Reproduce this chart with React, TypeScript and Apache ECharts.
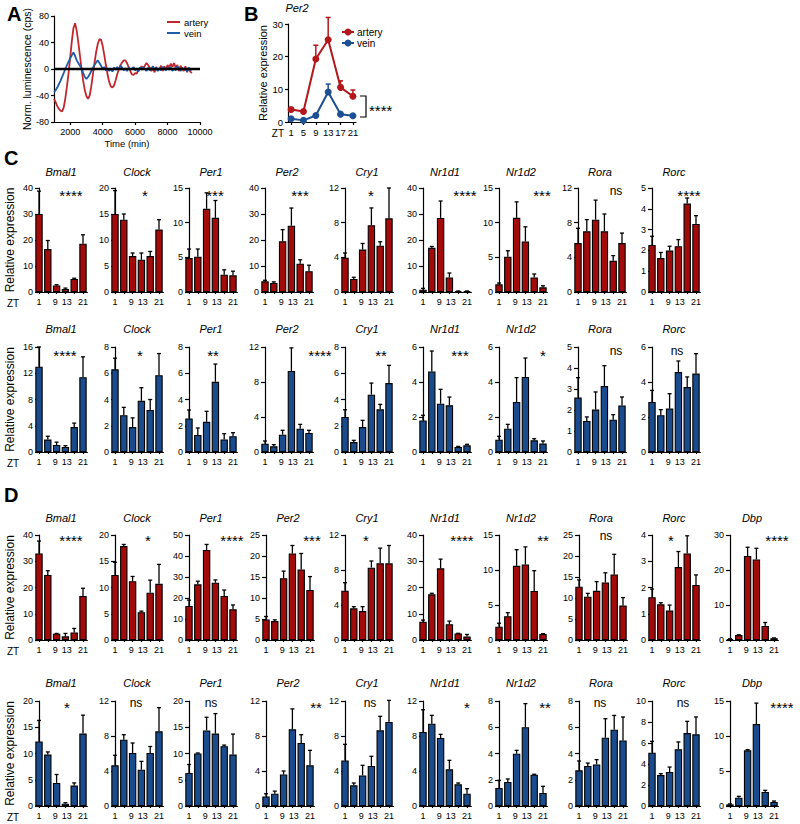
import React, { useEffect, useRef } from 'react';
import * as echarts from 'echarts';

const FONT = '"Liberation Sans", Arial, Helvetica, sans-serif';
const RED = '#a30a0a';
const BLUE = '#1a4b8c';
const A_RED = '#c1272d';
const A_BLUE = '#1f5da8';

// ---------- Panel A : luminescence traces ----------
const A_X_LABELS = [2000, 4000, 6000, 8000, 10000];
const A_BASELINE = [[1000, 0], [10000, 0]];
const A_ARTERY = [
  [1000, -45], [1100, -50], [1200, -56], [1300, -60], [1400, -63], [1500, -64], [1600, -58], [1700, -44], [1800, -26], [1900, -6],
  [2000, 18], [2100, 42], [2200, 62], [2300, 69], [2400, 58], [2500, 40], [2600, 20], [2700, 0], [2800, -18], [2900, -32],
  [3000, -41], [3100, -45], [3200, -40], [3300, -26], [3400, -8], [3500, 10], [3600, 26], [3700, 38], [3800, 45], [3900, 44],
  [4000, 35], [4100, 21], [4200, 6], [4300, -8], [4400, -19], [4500, -26], [4600, -28], [4700, -25], [4800, -17], [4900, -8],
  [5000, 0], [5100, 6], [5200, 10], [5300, 13], [5400, 13], [5500, 9], [5600, 3], [5700, -3], [5800, -8], [5900, -9],
  [6000, -6], [6100, -7], [6200, -1], [6300, 1], [6400, 4], [6500, 1], [6600, 5], [6700, 9], [6800, 6], [6900, 2],
  [7000, -3], [7100, 1], [7200, -5], [7300, 3], [7400, -2], [7500, 0], [7600, 5], [7700, -3], [7800, 4], [7900, -1],
  [8000, 6], [8100, 2], [8200, 8], [8300, 3], [8400, 9], [8500, 2], [8600, 6], [8700, -3], [8800, 5], [8900, 0],
  [9000, -3], [9100, 4], [9200, -5], [9300, 2], [9400, -4], [9500, -6],
];
const A_VEIN = [
  [1000, -35], [1100, -32], [1200, -28], [1300, -23], [1400, -18], [1500, -12], [1600, -6], [1700, 0], [1800, 6], [1900, 11],
  [2000, 16], [2100, 21], [2200, 25], [2300, 20], [2400, 13], [2500, 9], [2600, 5], [2700, 1], [2800, -6], [2900, -12],
  [3000, -15], [3100, -12], [3200, -8], [3300, -3], [3400, 2], [3500, 6], [3600, 10], [3700, 13], [3800, 9], [3900, 5],
  [4000, 0], [4100, 3], [4200, -2], [4300, 1], [4400, -3], [4500, 0], [4600, -4], [4700, 2], [4800, -1], [4900, 3],
  [5000, 0], [5100, 5], [5200, 2], [5300, -2], [5400, 1], [5500, -3], [5600, 2], [5700, -1], [5800, 0], [5900, 3],
  [6000, -2], [6100, 1], [6200, -4], [6300, 2], [6400, -1], [6500, 3], [6600, 0], [6700, -3], [6800, 2], [6900, -2],
  [7000, 1], [7100, 4], [7200, -1], [7300, 2], [7400, -3], [7500, 1], [7600, -2], [7700, 3], [7800, 0], [7900, -2],
  [8000, 2], [8100, -1], [8200, 3], [8300, -3], [8400, 1], [8500, -2], [8600, 4], [8700, 0], [8800, -3], [8900, 2],
  [9000, -1], [9100, 1], [9200, -4], [9300, 2], [9400, -2], [9500, 0],
];

// ---------- Panel B : Per2 time course ----------
const ZT = [1, 5, 9, 13, 17, 21];
const ZT_BAR_LABELS = [1, 9, 13, 21];
const B_ARTERY_MEAN = [3.8, 3.2, 19.3, 25.2, 10.6, 7.9];
const B_ARTERY_SEM = [0.5, 0.3, 4.2, 6.8, 2.0, 1.9];
const B_VEIN_MEAN = [1.0, 0.5, 2.0, 9.2, 2.4, 1.9];
const B_VEIN_SEM = [0.3, 0.2, 0.3, 2.4, 0.3, 0.2];
const B_SIG = '****';

// ---------- Panel C ----------
const GENES_C = ['Bmal1', 'Clock', 'Per1', 'Per2', 'Cry1', 'Nr1d1', 'Nr1d2', 'Rora', 'Rorc'];
const C_ARTERY_MEAN = [
  [30, 16.5, 2.5, 1.2, 5.0, 18.6],
  [15.0, 13.9, 6.9, 6.2, 6.9, 12.0],
  [4.9, 5.1, 12.0, 10.7, 2.5, 2.4],
  [4.1, 3.5, 19.5, 25.5, 10.9, 8.0],
  [3.96, 1.5, 4.9, 7.7, 5.35, 8.5],
  [0.9, 17.0, 28.5, 5.6, 0.3, 0.3],
  [1.1, 5.1, 10.7, 7.3, 2.1, 0.67],
  [5.65, 7.0, 8.35, 7.0, 3.6, 5.65],
  [2.26, 1.63, 1.99, 2.2, 4.25, 3.27],
];
const C_ARTERY_SEM = [
  [8.8, 3.3, 0.3, 0.3, 0.3, 3.4],
  [4.5, 1.1, 0.6, 1.3, 0.9, 1.9],
  [1.3, 1.1, 2.3, 2.5, 0.7, 0.6],
  [0.4, 0.4, 4.5, 6.8, 1.5, 2.3],
  [0.54, 0.2, 0.7, 2.0, 0.45, 3.5],
  [0.5, 0.5, 6.5, 1.7, 0.1, 0.1],
  [0.2, 0.85, 2.3, 2.1, 0.5, 0.23],
  [1.7, 1.35, 2.25, 2.0, 0.6, 1.15],
  [0.42, 0.27, 0.21, 0.32, 0.27, 0.4],
];
const C_ARTERY_SIG = ['****', '*', '***', '***', '*', '****', '***', 'ns', '****'];
const C_ARTERY_YMAX = [40, 20, 15, 40, 12, 40, 15, 12, 5];
const C_ARTERY_YSTEP = [10, 5, 5, 10, 4, 10, 5, 4, 1];

const C_VEIN_MEAN = [
  [13.0, 1.9, 1.07, 0.76, 3.8, 11.4],
  [6.3, 2.8, 1.9, 3.9, 3.2, 5.85],
  [2.56, 1.3, 2.3, 5.35, 0.96, 1.2],
  [0.95, 0.65, 1.98, 9.26, 2.67, 2.17],
  [2.67, 0.76, 1.9, 4.37, 3.25, 5.25],
  [1.8, 4.6, 2.76, 2.67, 0.29, 0.38],
  [0.7, 1.33, 2.86, 4.29, 0.67, 0.48],
  [2.59, 1.48, 2.02, 3.14, 1.54, 2.22],
  [2.86, 2.1, 2.48, 4.57, 3.71, 4.48],
];
const C_VEIN_SEM = [
  [3.0, 0.5, 0.43, 0.2, 0.6, 3.1],
  [0.85, 0.6, 0.7, 1.0, 0.8, 1.65],
  [0.64, 0.53, 0.8, 1.35, 0.44, 0.27],
  [0.31, 0.19, 0.5, 2.64, 0.49, 0.31],
  [0.55, 0.13, 0.51, 0.88, 0.38, 1.35],
  [0.3, 1.17, 0.82, 0.47, 0.03, 0.06],
  [0.2, 0.25, 1.39, 1.08, 0.09, 0.15],
  [0.95, 0.19, 0.84, 0.97, 0.24, 0.4],
  [0.66, 0.32, 0.85, 0.63, 0.58, 1.14],
];
const C_VEIN_SIG = ['****', '*', '**', '****', '**', '***', '*', 'ns', 'ns'];
const C_VEIN_YMAX = [16, 8, 8, 12, 8, 6, 6, 5, 6];
const C_VEIN_YSTEP = [4, 2, 2, 4, 2, 2, 2, 1, 2];

// ---------- Panel D ----------
const GENES_D = ['Bmal1', 'Clock', 'Per1', 'Per2', 'Cry1', 'Nr1d1', 'Nr1d2', 'Rora', 'Rorc', 'Dbp'];
const D_ARTERY_MEAN = [
  [33, 24.8, 2.4, 1.4, 2.9, 16.8],
  [12.4, 17.9, 11.2, 5.3, 9.0, 10.7],
  [16.2, 26.5, 42.9, 27.3, 21.0, 14.6],
  [4.9, 4.5, 14.7, 20.6, 16.8, 11.9],
  [5.64, 3.62, 3.31, 8.27, 8.76, 8.76],
  [7.0, 17.4, 27.3, 6.0, 2.5, 1.3],
  [1.9, 3.4, 10.6, 10.8, 7.0, 0.86],
  [12.7, 10.3, 11.7, 13.7, 15.6, 8.2],
  [1.63, 1.36, 1.12, 2.78, 3.3, 2.1],
  [0.3, 1.4, 24, 23, 4.0, 0.5],
];
const D_ARTERY_SEM = [
  [4.7, 1.6, 0.1, 1.1, 1.5, 2.9],
  [2.4, 0.3, 0.9, 0.2, 2.4, 3.7],
  [2.8, 1.5, 2.6, 1.3, 2.8, 2.1],
  [0.7, 0.3, 1.7, 1.9, 3.8, 3.2],
  [0.91, 0.19, 0.5, 0.76, 1.74, 2.04],
  [0.6, 0.4, 3.5, 1.2, 0.05, 0.8],
  [0.5, 0.5, 2.3, 2.5, 2.9, 0.05],
  [1.6, 0.8, 2.2, 2.3, 4.8, 1.9],
  [0.31, 0.06, 0.21, 0.59, 0.67, 0.38],
  [0.05, 0.1, 2.5, 3.2, 1.0, 0.1],
];
const D_ARTERY_SIG = ['****', '*', '****', '***', '*', '****', '**', 'ns', '*', '****'];
const D_ARTERY_YMAX = [40, 20, 50, 25, 12, 40, 15, 25, 4, 30];
const D_ARTERY_YSTEP = [10, 5, 10, 5, 4, 10, 5, 5, 1, 10];

const D_VEIN_MEAN = [
  [12.3, 9.8, 4.4, 0.44, 3.9, 13.8],
  [4.65, 7.58, 6.06, 4.15, 6.06, 8.53],
  [6.3, 10.0, 14.4, 13.8, 11.4, 9.8],
  [1.1, 1.4, 3.6, 8.76, 7.2, 4.65],
  [5.2, 2.36, 3.5, 4.57, 8.65, 9.6],
  [8.46, 9.4, 7.77, 4.19, 2.48, 1.41],
  [1.37, 1.83, 3.98, 6.0, 2.39, 0.99],
  [2.72, 3.05, 3.17, 5.2, 5.81, 5.0],
  [5.08, 2.95, 3.24, 5.4, 6.95, 6.83],
  [0.24, 1.19, 7.95, 11.7, 2.0, 0.57],
];
const D_VEIN_SEM = [
  [4.0, 0.5, 1.6, 0.19, 0.5, 3.5],
  [1.15, 0.57, 1.14, 0.95, 0.74, 2.71],
  [1.6, 0.1, 2.5, 3.8, 0.2, 3.9],
  [0.3, 0.3, 0.4, 2.34, 0.95, 1.71],
  [1.85, 0.27, 1.15, 1.11, 1.6, 2.47],
  [2.54, 0.96, 0.42, 1.03, 0.15, 0.57],
  [0.58, 0.23, 0.26, 1.8, 0.03, 0.51],
  [0.71, 0.22, 0.36, 1.45, 1.09, 1.78],
  [1.08, 0.13, 0.47, 0.7, 1.11, 1.65],
  [0.06, 0.19, 0.1, 3.0, 0.24, 0.14],
];
const D_VEIN_SIG = ['*', 'ns', 'ns', '**', 'ns', '*', '**', 'ns', 'ns', '****'];
const D_VEIN_YMAX = [20, 12, 20, 12, 12, 12, 8, 8, 10, 15];
const D_VEIN_YSTEP = [5, 4, 5, 4, 4, 4, 2, 2, 2, 5];

// ---------- layout (positions only) ----------
const AXIS_X_C = [39, 115, 189, 265, 345, 423, 499, 578, 652];
const AXIS_X_D = [39, 115, 189, 266, 345, 423, 499, 579, 652, 730];
const LAYOUT_C1 = { axisX: AXIS_X_C, top: 188, height: 104, titleY: 172, starY: 191, starX: [71, 145, 215, 300, 371, 465, 542, 616, 689] };
const LAYOUT_C2 = { axisX: AXIS_X_C, top: 347, height: 105, titleY: 329, starY: 351, starX: [65, 140, 213, 320, 381, 460, 543, 616, 677] };
const LAYOUT_D1 = { axisX: AXIS_X_D, top: 535, height: 105, titleY: 518, starY: 536, starX: [71, 148, 232, 312, 366, 462, 543, 606, 671, 777] };
const LAYOUT_D2 = { axisX: AXIS_X_D, top: 701, height: 105, titleY: 683, starY: 703, starX: [67, 136, 211, 316, 370, 467, 545, 600, 683, 782] };
const BAR_GRID_W = 48.4;

function makeErr(color: string, cap: number, lw: number) {
  return (params: any, api: any) => {
    const x = api.value(0);
    const m = api.value(1);
    const e = api.value(2);
    const p0 = api.coord([x, m]);
    const p1 = api.coord([x, m + e]);
    return {
      type: 'group',
      children: [
        { type: 'line', shape: { x1: p0[0], y1: p0[1], x2: p1[0], y2: p1[1] }, style: { stroke: color, lineWidth: lw } },
        { type: 'line', shape: { x1: p1[0] - cap, y1: p1[1], x2: p1[0] + cap, y2: p1[1] }, style: { stroke: color, lineWidth: lw } },
      ],
    };
  };
}

function buildOption() {
  const grid: any[] = [];
  const xAxis: any[] = [];
  const yAxis: any[] = [];
  const series: any[] = [];
  const graphic: any[] = [];

  const txt = (x: number, y: number, text: string, size: number, extra: any = {}) => ({
    type: 'text', x, y, silent: true, z: 100,
    style: { text, fontSize: size, fontFamily: FONT, fill: '#000', align: 'left', verticalAlign: 'middle', ...extra },
  });
  const axLine = { show: true, onZero: false, lineStyle: { color: '#000', width: 1.2 } };
  const tick = (len: number, extra: any = {}) => ({ show: true, length: len, inside: false, lineStyle: { color: '#000', width: 1.2 }, ...extra });
  const lbl = (size: number, margin: number, extra: any = {}) => ({ fontSize: size, fontFamily: FONT, color: '#000', margin, ...extra });
  const nameStyle = (size: number) => ({ fontSize: size, fontFamily: FONT, color: '#000' });
  const plain = (v: number) => String(v);

  // ---- Panel A ----
  grid.push({ left: 54, top: 16, width: 146, height: 106 });
  xAxis.push({
    type: 'value', gridIndex: 0, min: 1000, max: 10000,
    axisLine: axLine, axisTick: tick(3, { customValues: A_X_LABELS }), axisLabel: lbl(9, 5, { customValues: A_X_LABELS, formatter: plain }),
    splitLine: { show: false }, name: 'Time (min)', nameLocation: 'middle', nameGap: 16, nameTextStyle: nameStyle(9.5),
  });
  yAxis.push({
    type: 'value', gridIndex: 0, min: -80, max: 80, interval: 40,
    axisLine: axLine, axisTick: tick(3), axisLabel: lbl(9, 5, { formatter: plain }), splitLine: { show: false },
    name: 'Norm. luminescence (cps)', nameLocation: 'middle', nameGap: 18, nameTextStyle: nameStyle(10.5),
  });
  series.push({ type: 'line', xAxisIndex: 0, yAxisIndex: 0, data: A_ARTERY, symbol: 'none', silent: true, lineStyle: { color: A_RED, width: 1.8 } });
  series.push({ type: 'line', xAxisIndex: 0, yAxisIndex: 0, data: A_VEIN, symbol: 'none', silent: true, lineStyle: { color: A_BLUE, width: 1.8 } });
  series.push({ type: 'line', xAxisIndex: 0, yAxisIndex: 0, data: A_BASELINE, symbol: 'none', silent: true, z: 5, lineStyle: { color: '#000', width: 2.6 } });
  graphic.push(txt(7, 14, 'A', 20, { fontWeight: 'bold' }));
  graphic.push({ type: 'line', shape: { x1: 167, y1: 22, x2: 180, y2: 22 }, style: { stroke: A_RED, lineWidth: 2 }, silent: true });
  graphic.push(txt(184, 22, 'artery', 9.5));
  graphic.push({ type: 'line', shape: { x1: 167, y1: 33, x2: 180, y2: 33 }, style: { stroke: A_BLUE, lineWidth: 2 }, silent: true });
  graphic.push(txt(184, 33, 'vein', 9.5));

  // ---- Panel B ----
  grid.push({ left: 288, top: 24, width: 68, height: 98 });
  xAxis.push({
    type: 'value', gridIndex: 1, min: 0, max: 22,
    axisLine: axLine, axisTick: tick(3, { customValues: ZT }), axisLabel: lbl(9.5, 5, { customValues: ZT }),
    splitLine: { show: false },
  });
  yAxis.push({
    type: 'value', gridIndex: 1, min: 0, max: 30, interval: 10,
    axisLine: axLine, axisTick: tick(3), axisLabel: lbl(9.5, 5), splitLine: { show: false },
    name: 'Relative expression', nameLocation: 'middle', nameGap: 16, nameTextStyle: nameStyle(11),
  });
  const bArt = ZT.map((z, k) => [z, B_ARTERY_MEAN[k], B_ARTERY_SEM[k]]);
  const bVein = ZT.map((z, k) => [z, B_VEIN_MEAN[k], B_VEIN_SEM[k]]);
  series.push({ type: 'custom', xAxisIndex: 1, yAxisIndex: 1, data: bArt, clip: false, silent: true, z: 2, renderItem: makeErr('#b3161b', 2.5, 1.5) });
  series.push({ type: 'custom', xAxisIndex: 1, yAxisIndex: 1, data: bVein, clip: false, silent: true, z: 2, renderItem: makeErr('#1d4f95', 2.5, 1.5) });
  series.push({ type: 'line', xAxisIndex: 1, yAxisIndex: 1, data: bArt.map((d) => [d[0], d[1]]), symbol: 'circle', symbolSize: 7, silent: true, z: 3, itemStyle: { color: '#b3161b' }, lineStyle: { color: '#b3161b', width: 2 } });
  series.push({ type: 'line', xAxisIndex: 1, yAxisIndex: 1, data: bVein.map((d) => [d[0], d[1]]), symbol: 'circle', symbolSize: 7, silent: true, z: 3, itemStyle: { color: '#1d4f95' }, lineStyle: { color: '#1d4f95', width: 2 } });
  graphic.push(txt(244, 14, 'B', 20, { fontWeight: 'bold' }));
  graphic.push(txt(297, 8, 'Per2', 11, { fontStyle: 'italic', align: 'center' }));
  graphic.push(txt(284, 133, 'ZT', 10, { align: 'right' }));
  graphic.push({ type: 'line', shape: { x1: 342, y1: 32, x2: 354, y2: 32 }, style: { stroke: '#b3161b', lineWidth: 2 }, silent: true });
  graphic.push({ type: 'circle', shape: { cx: 348, cy: 32, r: 3.5 }, style: { fill: '#b3161b' }, silent: true });
  graphic.push(txt(357, 32, 'artery', 10));
  graphic.push({ type: 'line', shape: { x1: 342, y1: 43, x2: 354, y2: 43 }, style: { stroke: '#1d4f95', lineWidth: 2 }, silent: true });
  graphic.push({ type: 'circle', shape: { cx: 348, cy: 43, r: 3.5 }, style: { fill: '#1d4f95' }, silent: true });
  graphic.push(txt(357, 43, 'vein', 10));
  graphic.push({ type: 'polyline', shape: { points: [[360, 96], [366, 96], [366, 117], [360, 117]] }, style: { stroke: '#000', lineWidth: 1.2, fill: 'none' }, silent: true });
  graphic.push(txt(369, 110, B_SIG, 15));

  // ---- Panels C and D ----
  const rows = [
    { genes: GENES_C, means: C_ARTERY_MEAN, sems: C_ARTERY_SEM, sig: C_ARTERY_SIG, ymax: C_ARTERY_YMAX, ystep: C_ARTERY_YSTEP, color: RED, L: LAYOUT_C1 },
    { genes: GENES_C, means: C_VEIN_MEAN, sems: C_VEIN_SEM, sig: C_VEIN_SIG, ymax: C_VEIN_YMAX, ystep: C_VEIN_YSTEP, color: BLUE, L: LAYOUT_C2 },
    { genes: GENES_D, means: D_ARTERY_MEAN, sems: D_ARTERY_SEM, sig: D_ARTERY_SIG, ymax: D_ARTERY_YMAX, ystep: D_ARTERY_YSTEP, color: RED, L: LAYOUT_D1 },
    { genes: GENES_D, means: D_VEIN_MEAN, sems: D_VEIN_SEM, sig: D_VEIN_SIG, ymax: D_VEIN_YMAX, ystep: D_VEIN_YSTEP, color: BLUE, L: LAYOUT_D2 },
  ];
  const errBar = makeErr('#000', 2, 1.3);
  const ztFmt = (v: number) => (v === 9 ? '9 ' : v === 13 ? ' 13' : String(v));
  rows.forEach((row) => {
    const L = row.L;
    row.genes.forEach((gene, i) => {
      const gi = grid.length;
      const ax = L.axisX[i];
      grid.push({ left: ax, top: L.top, width: BAR_GRID_W, height: L.height });
      xAxis.push({
        type: 'value', gridIndex: gi, min: 1, max: 23,
        axisLine: axLine, axisTick: tick(2, { customValues: ZT }), axisLabel: lbl(9, 5, { customValues: ZT_BAR_LABELS, formatter: ztFmt }),
        splitLine: { show: false },
      });
      const y: any = {
        type: 'value', gridIndex: gi, min: 0, max: row.ymax[i], interval: row.ystep[i],
        axisLine: axLine, axisTick: tick(4), axisLabel: lbl(9, 6), splitLine: { show: false },
      };
      if (i === 0) {
        y.name = 'Relative expression';
        y.nameLocation = 'middle';
        y.nameGap = 23;
        y.nameTextStyle = nameStyle(12);
      }
      yAxis.push(y);
      const d = ZT.map((z, k) => [z, row.means[i][k], row.sems[i][k]]);
      series.push({
        type: 'bar', xAxisIndex: gi, yAxisIndex: gi, data: d.map((p) => [p[0], p[1]]), barWidth: 7.4, clip: false, silent: true, z: 2,
        itemStyle: { color: row.color, borderColor: '#000', borderWidth: 1.1 },
      });
      series.push({ type: 'custom', xAxisIndex: gi, yAxisIndex: gi, data: d, clip: false, silent: true, z: 3, renderItem: errBar });
      graphic.push(txt(ax + 22, L.titleY, gene, 11, { fontStyle: 'italic', align: 'center' }));
      const s = row.sig[i];
      const isStar = s.indexOf('*') >= 0;
      graphic.push(txt(L.starX[i], isStar ? L.starY + 4 : L.starY, s, isStar ? 15 : 12, { align: 'center' }));
    });
    graphic.push(txt(7, L.top + L.height + 11, 'ZT', 10));
  });
  graphic.push(txt(4, 158, 'C', 20, { fontWeight: 'bold' }));
  graphic.push(txt(4, 495, 'D', 20, { fontWeight: 'bold' }));

  return {
    animation: false,
    backgroundColor: '#fff',
    textStyle: { fontFamily: FONT },
    grid,
    xAxis,
    yAxis,
    series,
    graphic: { elements: graphic },
  };
}

export default function App() {
  const ref = useRef<HTMLDivElement>(null);
  useEffect(() => {
    document.body.style.margin = '0';
    const chart = echarts.init(ref.current as HTMLDivElement, null, { renderer: 'svg' });
    chart.setOption(buildOption() as any);
    return () => chart.dispose();
  }, []);
  return <div ref={ref} style={{ width: 800, height: 824, background: '#fff' }} />;
}
